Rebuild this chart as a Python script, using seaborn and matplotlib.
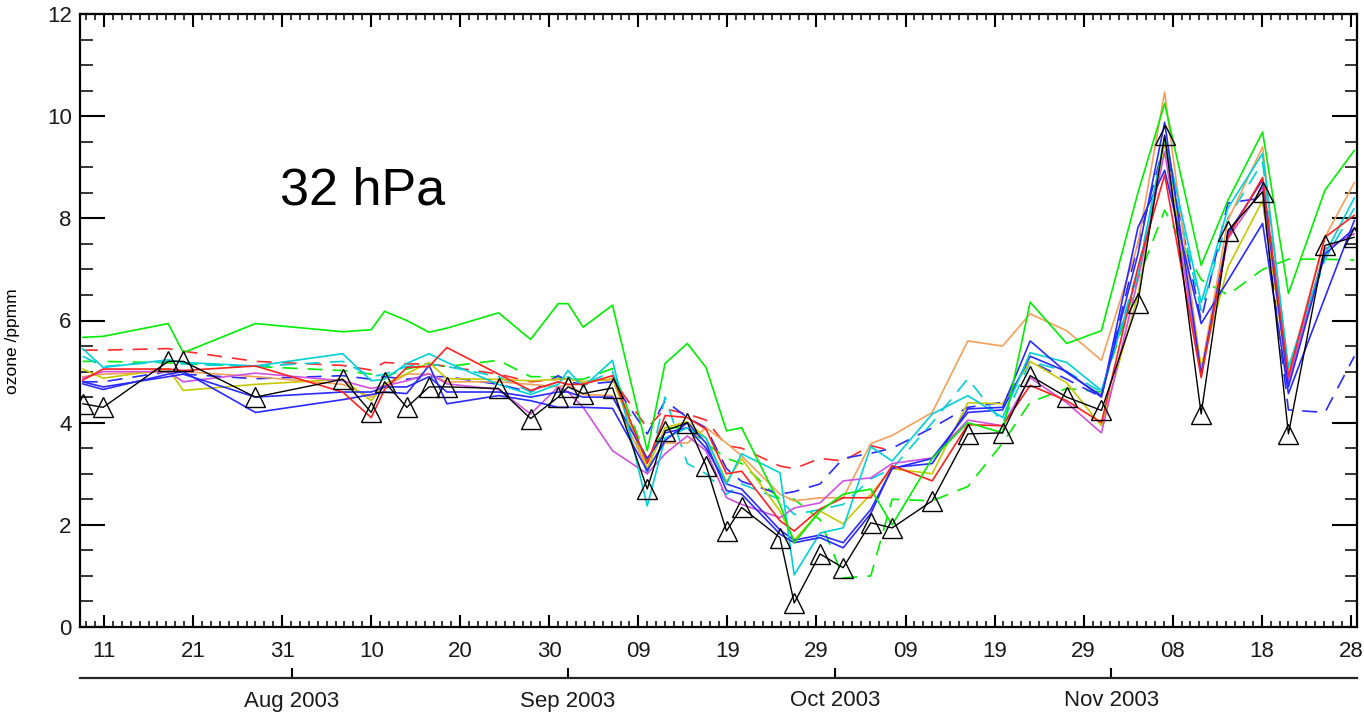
import numpy as np
import pandas as pd
import matplotlib
matplotlib.use("Agg")
import matplotlib.pyplot as plt
from matplotlib.ticker import MultipleLocator
import seaborn as sns

# ---------------- data ----------------
# observation / model dates, in days after the first labelled tick (11 Aug 2003)
days = [-2.4, -0.1, 7.2, 8.9, 17.0, 26.8, 30.0, 31.5, 34.0, 36.5, 38.5, 44.3, 47.9,
        51.0, 52.1, 53.8, 57.1, 61.0, 63.0, 65.5, 67.6, 69.9, 71.6, 75.9, 77.5,
        80.4, 83.0, 86.1, 88.5, 93.0, 97.0, 100.9, 104.0, 108.1, 112.0, 116.1,
        119.1, 123.2, 126.2, 130.1, 133.0, 137.1, 140.4]

obs = [4.37, 4.3, 5.2, 5.2, 4.5, 4.85, 4.2, 4.8, 4.3, 4.7, 4.7, 4.67, 4.08, 4.5, 4.7,
       4.57, 4.68, 2.7, 3.84, 4.0, 3.16, 1.88, 2.34, 1.75, 0.47, 1.43, 1.16, 2.04,
       1.94, 2.47, 3.78, 3.8, 4.92, 4.5, 4.24, 6.35, 9.63, 4.17, 7.76, 8.52, 3.78,
       7.47, 7.63]

green_solid = [5.67, 5.69, 5.94, 5.37, 5.94, 5.78, 5.82, 6.18, 6.0, 5.77, 5.85, 6.15,
               5.63, 6.33, 6.33, 5.87, 6.3, 3.45, 5.16, 5.55, 5.08, 3.84, 3.9, 2.4,
               1.65, 2.27, 2.6, 2.7, 2.0, 3.3, 4.0, 3.8, 6.36, 5.55, 5.8, 8.5, 10.25,
               7.08, 8.35, 9.69, 6.53, 8.55, 9.33]
green_dashed = [5.2, 5.2, 5.17, 5.15, 5.1, 5.02, 4.95, 4.9, 5.05, 5.15, 5.1, 5.22, 4.9,
                4.9, 4.85, 4.85, 5.06, 3.25, 3.9, 3.9, 3.6, 3.3, 3.2, 2.5, 2.5, 2.1,
                0.96, 1.0, 2.5, 2.47, 2.75, 3.6, 4.4, 4.67, 4.6, 6.8, 8.16, 6.8, 6.5,
                7.0, 7.2, 7.2, 7.18]
red_solid = [4.83, 5.05, 5.05, 5.02, 5.11, 4.6, 4.1, 4.65, 5.08, 5.1, 5.47, 4.95, 4.63,
             4.8, 4.75, 4.75, 4.92, 3.2, 4.14, 4.1, 3.87, 3.0, 3.05, 2.08, 1.88, 2.31,
             2.53, 2.53, 3.16, 2.86, 3.96, 3.94, 4.73, 4.43, 4.0, 7.04, 8.85, 4.88,
             7.63, 8.8, 4.9, 7.63, 8.06]
red_dashed = [5.42, 5.42, 5.45, 5.4, 5.2, 5.12, 5.03, 5.18, 5.15, 5.15, 5.1, 4.95, 4.8,
              4.85, 4.85, 4.8, 4.85, 3.9, 4.27, 4.17, 4.05, 3.55, 3.5, 3.15, 3.1, 3.3,
              3.25, 3.55, 3.45] + [np.nan] * 14
blue_solid = [4.76, 4.65, 4.95, 5.0, 4.2, 4.45, 4.55, 4.6, 4.57, 5.12, 4.37, 4.53, 4.43,
              4.3, 4.3, 4.3, 4.28, 3.06, 3.65, 4.0, 3.6, 2.67, 2.6, 1.82, 1.65, 1.75,
              1.55, 2.22, 3.12, 3.2, 4.27, 4.3, 5.6, 4.98, 4.53, 7.3, 9.88, 4.95, 7.7,
              8.75, 4.7, 7.3, 7.8]
blue_solid_2 = [4.8, 4.7, 4.9, 4.95, 4.5, 4.6, 4.6, 4.7, 4.7, 4.9, 4.6, 4.6, 4.5, 4.6,
                4.6, 4.5, 4.5, 3.3, 3.8, 3.9, 3.5, 2.8, 2.7, 1.9, 1.7, 1.8, 1.65, 2.3,
                3.1, 3.3, 4.2, 4.25, 5.3, 5.0, 4.5, 7.82, 8.94, 5.94, 6.78, 7.9, 4.57,
                6.45, 7.96]
blue_dashed = [4.8, 4.8, 5.0, 4.95, 4.86, 4.92, 4.85, 4.9, 4.85, 4.9, 4.9, 4.75, 4.6,
               4.92, 4.8, 4.75, 4.8, 3.78, 4.43, 4.1, 3.9, 3.1, 2.85, 2.6, 2.65, 2.8,
               3.3, 3.4, 3.5, 3.9, 4.3, 4.4, 5.2, 4.85, 4.5, 7.5, 9.5, 6.0, 8.3, 8.4,
               4.25, 4.2, 5.3]
cyan_solid = [5.45, 5.08, 5.23, 5.18, 5.11, 5.35, 4.82, 4.85, 5.16, 5.35, 5.18, 4.75,
              4.55, 4.75, 5.02, 4.7, 5.22, 2.37, 3.7, 3.9, 3.7, 2.8, 3.39, 3.02, 1.02,
              1.84, 1.94, 3.53, 3.25, 4.17, 4.53, 4.1, 5.37, 5.18, 4.63, 6.9, 9.6, 6.35,
              8.2, 9.27, 5.08, 7.3, 8.4]
cyan_dashed = [5.3, 5.1, 5.2, 5.15, 5.1, 5.2, 4.9, 4.95, 5.1, 5.15, 5.1, 4.9, 4.6, 4.8,
               4.9, 4.75, 5.0, 3.0, 4.5, 3.2, 3.0, 2.6, 2.8, 2.5, 2.2, 2.3, 2.4, 2.9,
               3.1, 4.0, 4.86, 4.0, 5.2, 5.0, 4.6, 7.0, 9.4, 6.2, 8.0, 9.1, 5.0, 7.2, 8.2]
orange_solid = [4.9, 4.95, 5.0, 5.0, 4.9, 4.75, 4.5, 4.7, 4.95, 4.95, 4.8, 4.8, 4.75,
                4.7, 4.75, 4.55, 4.53, 3.1, 3.6, 3.6, 3.9, 3.6, 3.35, 2.6, 2.47, 2.53,
                2.53, 3.59, 3.75, 4.2, 5.6, 5.5, 6.13, 5.8, 5.22, 7.5, 10.47, 5.02,
                7.96, 9.4, 4.96, 7.63, 8.7]
yellow_solid = [5.05, 4.87, 5.05, 4.63, 4.75, 4.85, 4.43, 4.75, 4.96, 5.18, 4.86, 4.85,
                4.82, 4.85, 4.85, 4.8, 4.85, 3.1, 3.9, 4.02, 3.7, 2.85, 3.3, 2.27, 1.7,
                2.27, 2.02, 2.6, 3.1, 3.0, 4.39, 4.37, 5.2, 4.78, 3.94, 6.5, 9.5, 5.1,
                7.04, 8.35, 4.8, 7.4, 7.7]
magenta_solid = [4.87, 5.0, 5.0, 4.8, 4.97, 4.82, 4.67, 4.72, 4.82, 4.96, 4.76, 4.65,
                 4.17, 4.7, 4.6, 4.3, 3.45, 3.0, 3.39, 3.74, 3.45, 2.53, 2.4, 2.14, 2.33,
                 2.43, 2.86, 2.92, 3.2, 3.31, 4.05, 3.94, 4.88, 4.39, 3.8, 6.8, 9.3,
                 4.93, 7.6, 8.6, 4.8, 7.4, 7.7]

day_tick_pos = [0, 10, 20, 30, 40, 50, 60, 70, 80, 90, 100, 110, 120, 130, 140]
day_tick_labels = ["11", "21", "31", "10", "20", "30", "09", "19", "29", "09", "19",
                   "29", "08", "18", "28"]
month_pos = [21.1, 52.1, 82.1, 113.1]
month_labels = ["Aug 2003", "Sep 2003", "Oct 2003", "Nov 2003"]

# ---------------- style ----------------
sns.set_style("white")
plt.rcParams["font.family"] = ["Liberation Sans", "DejaVu Sans"]
plt.rcParams["text.color"] = "black"
plt.rcParams["axes.labelcolor"] = "black"

W, H = 1364, 713
fig = plt.figure(figsize=(W / 100, H / 100), dpi=100)
ax = fig.add_axes([80 / W, (H - 627) / H, 1277 / W, 613 / H])

dash = (0, (9, 6))
series = [
    (green_dashed, "#00ee00", dash),
    (red_dashed, "#ff2a2a", dash),
    (blue_dashed, "#2a2aff", dash),
    (cyan_dashed, "#00d0d8", dash),
    (orange_solid, "#f5a05a", "-"),
    (yellow_solid, "#c8c800", "-"),
    (magenta_solid, "#d050e0", "-"),
    (blue_solid_2, "#2a2aff", "-"),
    (cyan_solid, "#00d0d8", "-"),
    (blue_solid, "#2a2aff", "-"),
    (red_solid, "#ff2020", "-"),
    (green_solid, "#00ee00", "-"),
]
for vals, col, ls in series:
    sns.lineplot(x=days, y=vals, ax=ax, color=col, linestyle=ls, lw=1.2,
                 errorbar=None, sort=False)

sns.lineplot(x=days, y=obs, ax=ax, color="black", lw=1.0, errorbar=None, sort=False,
             marker="^", markersize=14, markerfacecolor="none",
             markeredgecolor="black", markeredgewidth=1.0)

ax.set_xlim(-2.7, 140.7)
ax.set_ylim(0, 12)
ax.set_xticks(day_tick_pos)
ax.set_xticklabels(day_tick_labels)
ax.xaxis.set_minor_locator(MultipleLocator(1))
ax.set_yticks(range(0, 13, 2))
ax.yaxis.set_minor_locator(MultipleLocator(0.5))

for s in ax.spines.values():
    s.set_linewidth(1.6)
    s.set_color("black")

ax.tick_params(axis="x", which="major", direction="in", top=True, bottom=True,
               length=9, width=1.5, labelsize=16, pad=10, colors="black")
ax.tick_params(axis="x", which="minor", direction="in", top=True, bottom=True,
               length=4.5, width=1.3)
ax.tick_params(axis="y", which="major", direction="in", left=True, right=True,
               length=18, width=1.5, labelsize=16, pad=6, colors="black")
ax.tick_params(axis="y", which="minor", direction="in", left=True, right=True,
               length=9, width=1.3)
for lbl in ax.get_xticklabels() + ax.get_yticklabels():
    lbl.set_color("#1a1a1a")

ax.set_ylabel("ozone /ppmm", fontsize=12.5)
ax.yaxis.set_label_coords(-0.047, 0.467)
ax.set_xlabel("")

ax.text(19.8, 8.27, "32 hPa", fontsize=37.5, ha="left", va="baseline", color="black")

# month axis below
sec = ax.secondary_xaxis(-(678 - 627) / 613)
sec.set_xticks(month_pos)
sec.set_xticklabels(month_labels)
sec.spines["bottom"].set_linewidth(1.6)
sec.tick_params(axis="x", direction="in", length=7, width=1.5, labelsize=16, pad=9,
                colors="black")
sec.xaxis.set_minor_locator(plt.NullLocator())
for lbl in sec.get_xticklabels():
    lbl.set_color("#1a1a1a")

fig.savefig("out.png", dpi=100, facecolor="white")
